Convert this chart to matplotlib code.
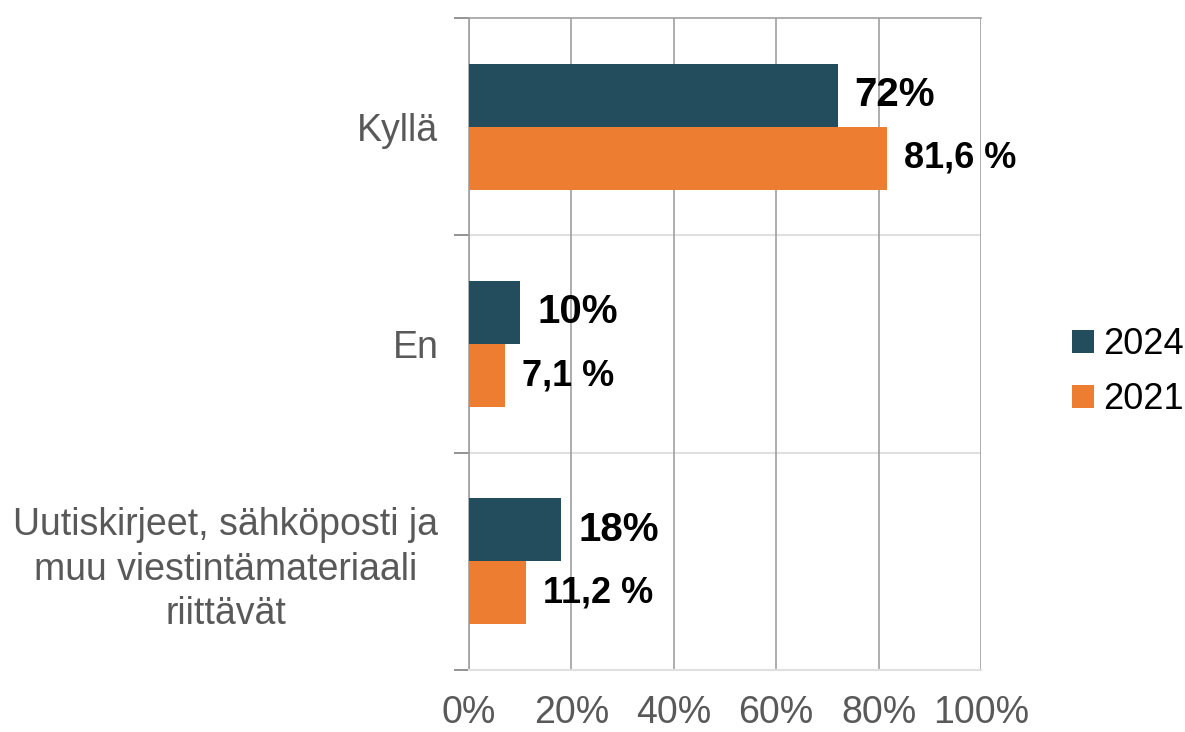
import matplotlib.pyplot as plt
import numpy as np

plt.rcParams['font.family'] = ['Liberation Sans', 'DejaVu Sans']

# Data
categories = ["Kyllä", "En", "Uutiskirjeet, sähköposti ja\nmuu viestintämateriaali\nriittävät"]
values_2024 = [72, 10, 18]
values_2021 = [81.6, 7.1, 11.2]
labels_2024 = ["72%", "10%", "18%"]
labels_2021 = ["81,6 %", "7,1 %", "11,2 %"]
x_ticks = [0, 20, 40, 60, 80, 100]
x_ticklabels = ["0%", "20%", "40%", "60%", "80%", "100%"]

c2024 = "#234D5C"
c2021 = "#ED7D31"

fig = plt.figure(figsize=(11.85, 7.32), dpi=100)
ax = fig.add_axes([469/1185, 1-670/732, (981-469)/1185, (670-18)/732])

y = np.arange(len(categories))
h = 0.29
b1 = ax.barh(y - h/2, values_2024, height=h, color=c2024, label="2024", zorder=3)
b2 = ax.barh(y + h/2, values_2021, height=h, color=c2021, label="2021", zorder=3)

for bar, lab in zip(b1, labels_2024):
    ax.text(bar.get_width() + 3.3, bar.get_y() + bar.get_height()/2, lab,
            va="center", ha="left", fontsize=29, fontweight="bold", color="black")
for bar, lab in zip(b2, labels_2021):
    ax.text(bar.get_width() + 3.3, bar.get_y() + bar.get_height()/2, lab,
            va="center", ha="left", fontsize=26, fontweight="bold", color="black")

ax.set_xlim(0, 100)
ax.set_ylim(2.5, -0.5)
ax.set_xticks(x_ticks)
ax.set_xticklabels(x_ticklabels, fontsize=27, color="#595959")
ax.set_yticks(y)
ax.set_yticklabels(categories, fontsize=27, color="#595959", linespacing=1.3,
                   multialignment="center")
ax.tick_params(axis="y", length=0, pad=22)
ax.tick_params(axis="x", length=0, pad=18)
ax.set_yticks([-0.5, 0.5, 1.5, 2.5], minor=True)
ax.tick_params(axis="y", which="minor", length=11, color="#808080", width=1.2)

ax.grid(axis="x", color="#A0A0A0", linewidth=1.2, zorder=0)
for yy in [0.5, 1.5]:
    ax.axhline(yy, color="#E0E0E0", linewidth=1.5, zorder=0)

ax.spines["right"].set_visible(False)
ax.spines["top"].set_color("#A0A0A0")
ax.spines["top"].set_linewidth(1.2)
ax.spines["bottom"].set_color("#E0E0E0")
ax.spines["bottom"].set_linewidth(1.5)
ax.spines["left"].set_color("#A0A0A0")
ax.spines["left"].set_linewidth(1.2)

fig.legend(handles=[b1, b2], labels=["2024", "2021"], loc="center left",
           bbox_to_anchor=(1072/1185, 1-372/732), frameon=False, fontsize=26,
           borderpad=0, borderaxespad=0,
           handlelength=0.6, handleheight=0.6, handletextpad=0.25, labelspacing=0.55)

fig.savefig("out.png", dpi=100)
